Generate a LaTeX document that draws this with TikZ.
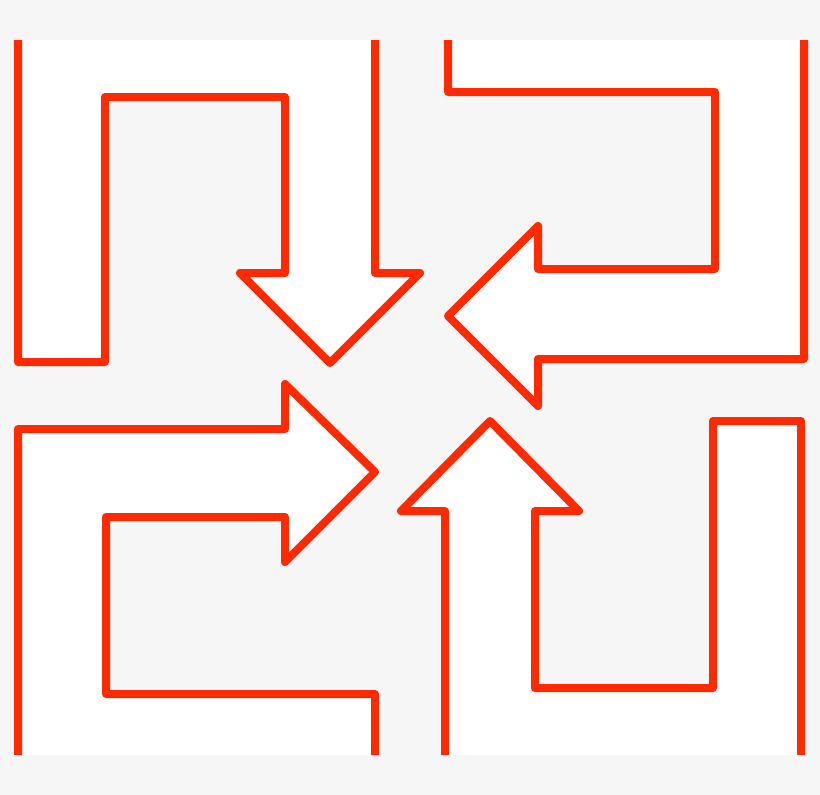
\documentclass[tikz,border=0pt]{standalone}
\definecolor{bg}{RGB}{246,246,246}
\definecolor{arrowred}{RGB}{255,42,0}
\begin{document}
\begin{tikzpicture}[x=1pt,y=-1pt,
  outline/.style={draw=arrowred,line width=8pt,line join=round,line cap=butt},
  body/.style={fill=white}]
\fill[bg] (0,0) rectangle (820,795);
\useasboundingbox (0,0) rectangle (820,795);
% top-left: down arrow
\fill[body] (18,40) -- (18,362) -- (105,362) -- (105,97) -- (285,97) -- (285,273) -- (240,273) -- (330,363) -- (420,273) -- (375,273) -- (375,40) -- cycle;
\draw[outline] (18,40) -- (18,362) -- (105,362) -- (105,97) -- (285,97) -- (285,273) -- (240,273) -- (330,363) -- (420,273) -- (375,273) -- (375,40);
% top-right: left arrow
\fill[body] (448,40) -- (448,92) -- (715,92) -- (715,269) -- (538,269) -- (538,226) -- (448,316) -- (538,406) -- (538,359) -- (804,359) -- (804,40) -- cycle;
\draw[outline] (448,40) -- (448,92) -- (715,92) -- (715,269) -- (538,269) -- (538,226) -- (448,316) -- (538,406) -- (538,359) -- (804,359) -- (804,40);
% bottom-left: right arrow
\fill[body] (18,755) -- (18,429) -- (285,429) -- (285,384) -- (375,472) -- (285,562) -- (285,517) -- (106,517) -- (106,694) -- (375,694) -- (375,755) -- cycle;
\draw[outline] (18,755) -- (18,429) -- (285,429) -- (285,384) -- (375,472) -- (285,562) -- (285,517) -- (106,517) -- (106,694) -- (375,694) -- (375,755);
% bottom-right: up arrow
\fill[body] (445,755) -- (445,511) -- (401,511) -- (490,421) -- (579,511) -- (535,511) -- (535,688) -- (713,688) -- (713,421) -- (801,421) -- (801,755) -- cycle;
\draw[outline] (445,755) -- (445,511) -- (401,511) -- (490,421) -- (579,511) -- (535,511) -- (535,688) -- (713,688) -- (713,421) -- (801,421) -- (801,755);
% cut the open ends flush at the top and bottom edges
\fill[bg] (0,0) rectangle (820,40);
\fill[bg] (0,755) rectangle (820,795);
\end{tikzpicture}
\end{document}
